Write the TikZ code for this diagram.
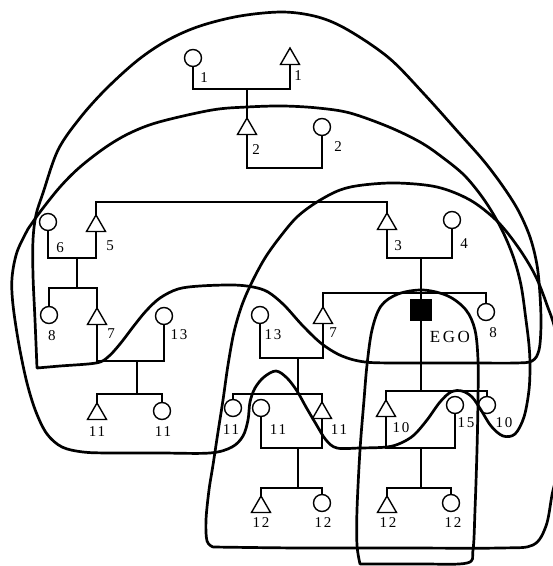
\documentclass[tikz,border=0pt]{standalone}
\usepackage{fontspec}
\setmainfont{Liberation Serif}
\newfontfamily\labfont[LetterSpace=12]{Liberation Serif}
\newfontfamily\egofont[LetterSpace=15]{Liberation Serif}
\usetikzlibrary{shapes.geometric}
\begin{document}
\begin{tikzpicture}[x=1pt,y=-1pt,
  fem/.style={circle, draw, minimum size=17pt, inner sep=0pt, outer sep=0pt, line width=1.4pt},
  mal/.style={regular polygon, regular polygon sides=3, draw, minimum size=22pt, inner sep=0pt, outer sep=0pt, line width=1.4pt},
  egobox/.style={rectangle, fill=black, minimum size=22pt, inner sep=0pt, outer sep=0pt},
  tie/.style={line width=1.7pt},
  desc/.style={line width=2.6pt},
  kin/.style={line width=2.7pt, line join=round, line cap=round},
  lab/.style={font=\labfont\fontsize{15}{15}\selectfont, inner sep=0pt},
  egolab/.style={font=\egofont\fontsize{17}{17}\selectfont, inner sep=0pt}]
\useasboundingbox (0,0) rectangle (553,566);
\clip (0,0) rectangle (553,566);
\fill[white] (0,0) rectangle (553,566);

% ---------- persons ----------
\node[fem] (c1) at (193,58) {};
\node[mal] (t1) at (290,59) {};
\node[mal] (t2) at (247,129) {};
\node[fem] (c2) at (322,127) {};
\node[fem] (c6) at (48,222) {};
\node[mal] (t5) at (96,226) {};
\node[mal] (t3) at (387,224) {};
\node[fem] (c4) at (452,220) {};
\node[fem] (c8L) at (49,315) {};
\node[mal] (t7L) at (97,319) {};
\node[fem] (c13L) at (164,316) {};
\node[mal] (t11L) at (97,414) {};
\node[fem] (c11L) at (162,411) {};
\node[fem] (c13M) at (260,315) {};
\node[mal] (t7M) at (323,318) {};
\node[egobox] (ego) at (421,310) {};
\node[fem] (c8R) at (486,312) {};
\node[fem] (c11a) at (233,408) {};
\node[fem] (c11b) at (261,408) {};
\node[mal] (t11c) at (322,413) {};
\node[mal] (t12a) at (261,507) {};
\node[fem] (c12b) at (322,503) {};
\node[mal] (t10a) at (386,411) {};
\node[fem] (c15) at (455,405) {};
\node[fem] (c10b) at (487,405) {};
\node[mal] (t12c) at (387,507) {};
\node[fem] (c12d) at (451,503) {};

% ---------- junctions ----------
\coordinate (m1) at (247,89);
\coordinate (m2) at (285,168);
\coordinate (s3) at (387,202);
\coordinate (m65) at (77,258);
\coordinate (d65) at (77,288);
\coordinate (m7L) at (137,361);
\coordinate (d7L) at (137,394);
\coordinate (m34) at (421,258);
\coordinate (d34) at (421,293);
\coordinate (m7M) at (298,358);
\coordinate (d7M) at (298,394);
\coordinate (m11) at (298,448);
\coordinate (d11) at (298,488);
\coordinate (de) at (421,391);
\coordinate (m10) at (421,448);
\coordinate (d10) at (421,488);

% ---------- genealogy lines ----------
\draw[tie] (c1.south) |- (m1) -| (t1.south);
\draw[desc] (m1) -- (t2.north);
\draw[tie] (t2.south) |- (m2) -| (c2.south);
\draw[tie] (t5.north) |- (s3) -- (t3.north);
\draw[tie] (c6.south) |- (m65) -| (t5.south);
\draw[desc] (m65) -- (d65);
\draw[tie] (c8L.north) |- (d65) -| (t7L.north);
\draw[tie] (t7L.south) |- (m7L) -| (c13L.south);
\draw[desc] (m7L) -- (d7L);
\draw[tie] (t11L.north) |- (d7L) -| (c11L.north);
\draw[tie] (t3.south) |- (m34) -| (c4.south);
\draw[desc] (m34) -- (d34);
\draw[tie] (t7M.north) |- (d34) -| (c8R.north);
\draw[desc] (d34) -- (ego.north);
\draw[tie] (c13M.south) |- (m7M) -| (t7M.south);
\draw[desc] (m7M) -- (d7M);
\draw[tie] (c11a.north) |- (d7M) -| (t11c.north);
\draw[tie] (c11b.south) |- (m11) -| (t11c.south);
\draw[desc] (m11) -- (d11);
\draw[tie] (t12a.north) |- (d11) -| (c12b.north);
\draw[desc] (ego.south) -- (de);
\draw[tie] (t10a.north) |- (de) -| (c10b.north);
\draw[tie] (t10a.south) |- (m10) -| (c15.south);
\draw[desc] (m10) -- (d10);
\draw[tie] (t12c.north) |- (d10) -| (c12d.north);

% ---------- labels ----------
\node[lab] (l1a) at (204,78) {1};
\node[lab] (l1b) at (298,76) {1};
\node[lab] (l2a) at (256,150) {2};
\node[lab] (l2b) at (338,147) {2};
\node[lab] (l6) at (60,248) {6};
\node[lab] (l5) at (110,246) {5};
\node[lab] (l3) at (398,246) {3};
\node[lab] (l4) at (464,244) {4};
\node[lab] (l8a) at (52,336) {8};
\node[lab] (l7a) at (111,334) {7};
\node[lab] (l13a) at (179,335) {13};
\node[lab] (l11a) at (97,432) {11};
\node[lab] (l11b) at (163,432) {11};
\node[lab] (l13b) at (273,335) {13};
\node[lab] (l7b) at (333,333) {7};
\node[egolab] (lego) at (450,337) {EGO};
\node[lab] (l8b) at (493,333) {8};
\node[lab] (l11c) at (231,430) {11};
\node[lab] (l11d) at (278,430) {11};
\node[lab] (l11e) at (339,430) {11};
\node[lab] (l12a) at (261,523) {12};
\node[lab] (l12b) at (323,523) {12};
\node[lab] (l10a) at (401,428) {10};
\node[lab] (l15) at (466,423) {15};
\node[lab] (l10b) at (504,423) {10};
\node[lab] (l12c) at (388,523) {12};
\node[lab] (l12d) at (453,523) {12};

% ---------- kin boundaries ----------
% A: outer top loop
\draw[kin] plot[smooth, tension=0.55] coordinates {(37,368) (35,320) (33,275) (33,240) (36,215) (43,193) (58,150) (80,118) (106,89) (138,60) (168,40) (200,26) (240,16) (283,12) (318,17) (348,30) (389,58) (425,95) (459,133) (483,160) (502,185) (518,210) (530,237) (537,265) (540,295) (541,325) (539,350) (532,361) (515,363) (470,363) (400,363) (365,362) (342,356) (322,344) (303,326) (284,305) (268,292) (253,287) (233,285) (200,286) (178,289) (160,298) (146,311) (133,327) (120,344) (108,357) (96,363) (60,366) (37,368)};
% B: second loop
\draw[kin] plot[smooth, tension=0.55] coordinates {(28,229) (40,212) (60,187) (80,167) (106,147) (130,133) (159,122) (212,110) (247,107) (283,106) (318,108) (350,113) (389,127) (420,142) (442,157) (465,176) (485,201) (501,228) (513,256) (521,285) (526,320) (529,345) (530,365) (529,390) (524,417) (515,434) (503,436) (491,426) (481,410) (472,397) (462,391) (451,392) (440,402) (427,420) (414,435) (401,443) (387,447) (360,448) (337,448) (326,440) (316,424) (306,407) (297,391) (287,378) (276,371) (264,377) (255,388) (250,402) (248,420) (243,436) (232,447) (210,453) (160,453) (110,453) (83,452) (62,447) (47,434) (36,412) (27,383) (19,345) (13,305) (12,278) (17,252) (28,229)};
% D: lower right loop
\draw[kin] plot[smooth, tension=0.55] coordinates {(213,547) (207,541) (206,520) (209,490) (213,465) (218,432) (223,400) (228,365) (234,332) (242,305) (252,282) (265,258) (280,237) (297,217) (317,202) (340,190) (363,185) (397,183) (437,187) (470,200) (497,221) (518,247) (535,275) (547,305) (556,335) (562,400) (558,465) (552,495) (546,526) (533,545) (500,548) (400,548) (300,548) (213,547)};
% E: loop round EGO
\draw[kin] plot[smooth, tension=0.55] coordinates {(360,564) (357,545) (357,510) (360,450) (364,400) (367,365) (372,330) (381,306) (398,294) (423,290) (448,296) (466,310) (475,330) (478,360) (478,400) (477,450) (475,510) (473,550) (467,563) (420,564) (360,564)};
\end{tikzpicture}
\end{document}
